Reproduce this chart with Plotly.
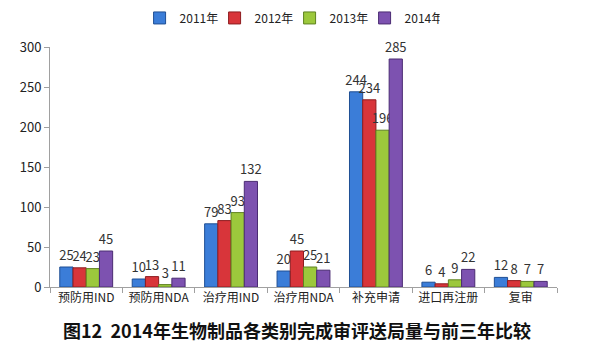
import plotly.graph_objects as go

categories = ["预防用IND", "预防用NDA", "治疗用IND", "治疗用NDA", "补充申请", "进口再注册", "复审"]
years = ["2011年", "2012年", "2013年", "2014年"]
v2011 = [25, 10, 79, 20, 244, 6, 12]
v2012 = [24, 13, 83, 45, 234, 4, 8]
v2013 = [23, 3, 93, 25, 196, 9, 7]
v2014 = [45, 11, 132, 21, 285, 22, 7]
series = [v2011, v2012, v2013, v2014]
colors = ["#3b7dd8", "#d8353a", "#9cc83c", "#7d52b0"]
lines = ["#1f4f94", "#8e1c1f", "#5f8220", "#4b2c73"]
yticks = [0, 50, 100, 150, 200, 250, 300]
title = "图12  2014年生物制品各类别完成审评送局量与前三年比较"

fig = go.Figure()
for name, vals, c, lc in zip(years, series, colors, lines):
    fig.add_trace(go.Bar(
        name=name, x=categories, y=vals,
        marker=dict(color=c, line=dict(color=lc, width=1)),
        text=[str(v) for v in vals], textposition="outside",
        textfont=dict(size=13, color="#333333"),
        constraintext="none", cliponaxis=False,
    ))

fig.update_layout(
    width=591, height=359,
    margin=dict(l=50, r=34, t=47, b=72, autoexpand=False),
    paper_bgcolor="white", plot_bgcolor="white",
    barmode="group", bargap=0.27, bargroupgap=0,
    font=dict(family="'Noto Sans CJK SC', sans-serif", size=12, color="#222222"),
    legend=dict(orientation="h", xref="container", yref="container",
                x=0.49, xanchor="center", y=0.95, yanchor="middle",
                font=dict(size=12), traceorder="normal", itemwidth=30,
                entrywidth=30, bgcolor="rgba(0,0,0,0)"),
    showlegend=True,
)
fig.update_yaxes(range=[0, 300], tickvals=yticks, showgrid=False, zeroline=False,
                 showline=True, linecolor="#a0a0a0", ticks="outside", ticklen=5,
                 tickcolor="#a0a0a0", tickfont=dict(size=13, color="#222222"))
fig.update_xaxes(showgrid=False, showline=True, linecolor="#a0a0a0", ticks="outside",
                 tickson="boundaries", ticklen=5, tickcolor="#a0a0a0",
                 tickfont=dict(size=12, color="#222222"))
fig.add_annotation(text="<b>" + title + "</b>", xref="paper", yref="paper",
                   x=0.487, y=-0.18, xanchor="center", yanchor="middle", showarrow=False,
                   font=dict(size=18, color="#111111", family="'Noto Sans CJK SC', sans-serif"))
fig.write_html("out.html", config={"displayModeBar": False})

with open("out.html", "r", encoding="utf-8") as f:
    html = f.read()
html = html.replace("<body>", '<body style="margin:0;padding:0;overflow:hidden">', 1)
with open("out.html", "w", encoding="utf-8") as f:
    f.write(html)
